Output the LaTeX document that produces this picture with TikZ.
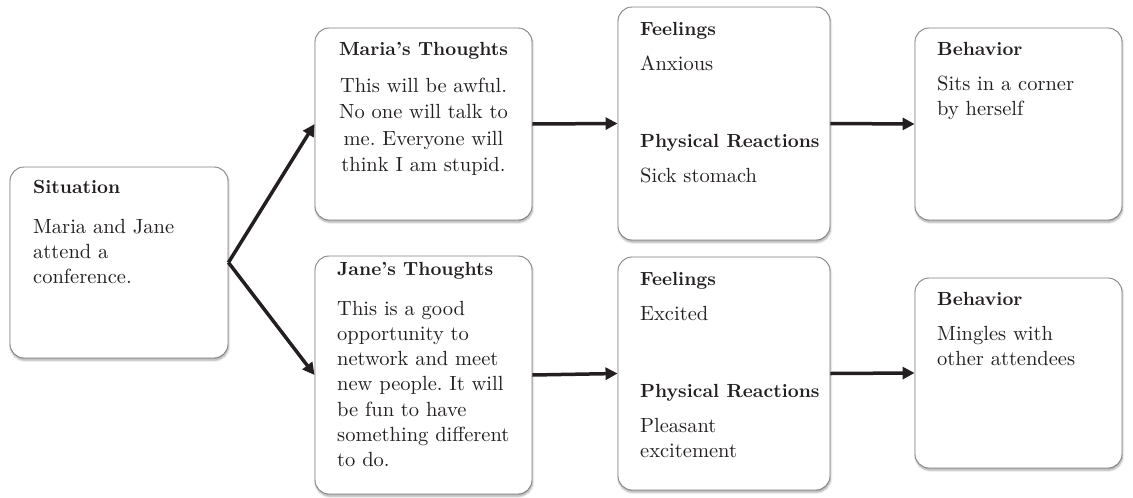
\documentclass[tikz,border=0pt]{standalone}
\usepackage{fontspec}
\setmainfont{lmroman10-regular.otf}[BoldFont=lmroman10-bold.otf]
\frenchspacing
\usetikzlibrary{arrows.meta,shadows.blur}
\definecolor{ink}{HTML}{231F20}
\definecolor{edge}{HTML}{828282}
\tikzset{
  box/.style={draw=edge, line width=0.9pt, rounded corners=14pt, fill=white,
    inner sep=0pt,
    blur shadow={shadow xshift=0.6pt, shadow yshift=-2.2pt,
      shadow blur steps=5, shadow opacity=35, shadow blur radius=2pt}},
  head/.style={anchor=base west, inner sep=0pt, text=ink,
    font=\fontsize{19}{24}\selectfont\bfseries},
  body/.style={anchor=base west, inner sep=0pt, text=ink, align=left,
    text width=205pt, font=\fontsize{20.5}{25.3}\selectfont},
  flow/.style={draw=ink, line width=3.5pt, -{Triangle[length=12pt,width=12pt]}},
}
\begin{document}
\begin{tikzpicture}[x=1pt,y=-1pt]
\useasboundingbox (0,0) rectangle (1133,498);

% boxes
\node[box, minimum width=218pt, minimum height=191pt] (sit)   at (119,262.5)  {};
\node[box, minimum width=217pt, minimum height=192pt] (maria) at (423.5,124)  {};
\node[box, minimum width=217pt, minimum height=238pt] (jane)  at (423.5,375)  {};
\node[box, minimum width=212pt, minimum height=233pt] (feelA) at (724,123.5)  {};
\node[box, minimum width=212pt, minimum height=233pt] (feelB) at (724,373.5)  {};
\node[box, minimum width=207pt, minimum height=192pt] (behA)  at (1018.5,124) {};
\node[box, minimum width=207pt, minimum height=190pt] (behB)  at (1018.5,373) {};

% situation
\node[head] (sitH) at (33,193) {Situation};
\node[body] (sitB) at (33,233) {Maria and Jane\\attend a\\conference.};

% thoughts
\node[head, anchor=base] (mariaH) at (423.5,55) {Maria's Thoughts};
\node[body, anchor=base, align=center, font=\fontsize{20.5}{26.6}\selectfont]
  (mariaB) at (423.5,92)
  {This will be awful.\\No one will talk to\\me. Everyone will\\think I am stupid.};
\node[head] (janeH) at (337,275) {Jane's Thoughts};
\node[body] (janeB) at (337,315)
  {This is a good\\opportunity to\\network and meet\\new people. It will\\be fun to have\\something different\\to do.};

% feelings and reactions
\node[head] (feelAH)  at (640,35)  {Feelings};
\node[body] (feelAB)  at (640,70)  {Anxious};
\node[head] (feelAPH) at (640,147) {Physical Reactions};
\node[body] (feelAPB) at (640,182) {Sick stomach};

\node[head] (feelBH)  at (640,285) {Feelings};
\node[body] (feelBB)  at (640,320) {Excited};
\node[head] (feelBPH) at (640,397) {Physical Reactions};
\node[body] (feelBPB) at (640,432) {Pleasant\\excitement};

% behavior
\node[head] (behAH) at (937,55)  {Behavior};
\node[body] (behAB) at (937,90)  {Sits in a corner\\by herself};
\node[head] (behBH) at (937,305) {Behavior};
\node[body] (behBB) at (937,340) {Mingles with\\other attendees};

% connectors
\draw[flow] (sit.east) -- (maria.west);
\draw[flow] (sit.east) -- (jane.west);
\draw[flow] (maria.east) -- (feelA.west);
\draw[flow] (jane.east) -- (feelB.west);
\draw[flow] (feelA.east) -- (behA.west);
\draw[flow] (feelB.east) -- (behB.west);
\end{tikzpicture}
\end{document}
